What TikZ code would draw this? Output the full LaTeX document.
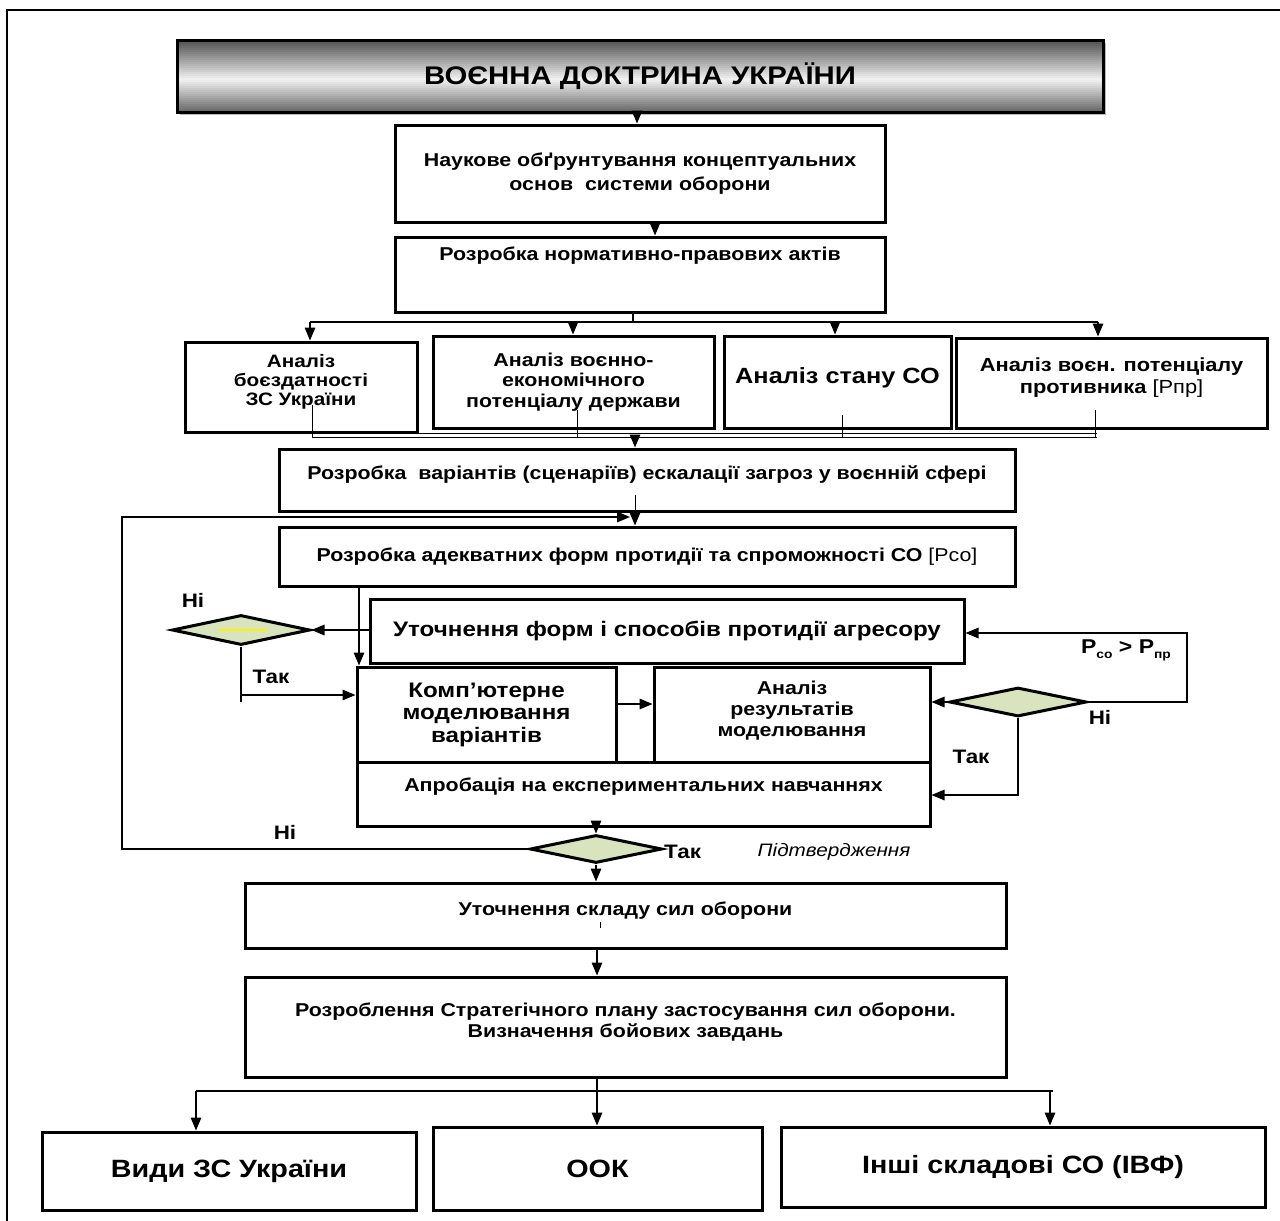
\documentclass[tikz,border=0pt]{standalone}
\usepackage{fontspec}
\setmainfont[FakeStretch=1.15]{Liberation Sans}
\usetikzlibrary{arrows.meta,shapes.geometric,calc,shadows}
\definecolor{dgreen}{HTML}{D7E4BD}
\begin{document}
\begin{tikzpicture}[x=1pt,y=-1pt,
  box/.style={draw,fill=white,line width=3pt,inner sep=0pt,align=center,
    drop shadow={shadow xshift=1.8pt,shadow yshift=-1.8pt,fill=gray!55,opacity=1},
    font=\bfseries\fontsize{18.6}{21}\selectfont},
  txt/.style={inner sep=0pt,align=center,font=\bfseries\fontsize{18.6}{21}\selectfont},
  lbl/.style={inner sep=0pt,font=\bfseries\fontsize{19.5}{21}\selectfont},
  arr/.style={line width=1.5pt,-{Triangle[length=13pt,width=10.5pt]}},
  ln/.style={line width=1.5pt},
  thin/.style={line width=0.9pt},
  dec/.style={diamond,draw,line width=3pt,fill=dgreen,inner sep=0pt}
]
\useasboundingbox (0,0) rectangle (1280,1221);
% frame
\draw[line width=1.2pt] (7,1221) -- (7,10) -- (1280,10);

% title: gradient background made of strips
\fill[gray!55] (180,43) rectangle (1106,115);
\foreach \i in {0,...,35}{
  \pgfmathsetmacro\t{(\i+0.5)/36}
  \pgfmathsetmacro\p{\t<0.55 ? 5+65*(0.55-\t)/0.55 : 5+55*(\t-0.55)/0.45}
  \fill[black!\p] (177,{40+2*\i}) rectangle (1103,{42.4+2*\i});
}
\node[draw,line width=3pt,inner sep=0pt,minimum width=926pt,minimum height=72pt,
  font=\bfseries\fontsize{25.5}{30}\selectfont]
  (doc) at (640,76) {ВОЄННА ДОКТРИНА УКРАЇНИ};

\node[box,minimum width=490pt,minimum height=97pt] (nauk) at (640,173.5)
  {Наукове обґрунтування концептуальних\\[3pt]основ\ \ системи оборони};
\node[box,minimum width=490pt,minimum height=75pt] (norm) at (640,274.5) {};
\node[txt] at (640,256) {Розробка нормативно-правових актів};

\draw[arr] (doc.south -| 637,0) -- (nauk.north -| 637,0);
\draw[arr] ($(nauk.south)+(15,0)$) -- ($(norm.north)+(15,0)$);

% analysis boxes
\node[box,minimum width=232pt,minimum height=90pt] (a1) at (301,387) {};
\node[txt,font=\bfseries\fontsize{18}{19}\selectfont] at (301,382) {Аналіз\\боєздатності\\ЗС України};
\node[box,minimum width=281pt,minimum height=92pt,font=\bfseries\fontsize{18.6}{20.5}\selectfont] (a2) at (573.5,382)
  {Аналіз воєнно-\\економічного\\потенціалу держави};
\node[box,minimum width=227pt,minimum height=92pt] (a3) at (837.5,382) {};
\node[txt,font=\bfseries\fontsize{22}{24}\selectfont] at (837.5,378) {Аналіз стану СО};
\node[box,minimum width=311pt,minimum height=90pt] (a4) at (1111.5,383) {};
\node[txt,font=\bfseries\fontsize{19}{22}\selectfont] at (1111.5,378)
  {Аналіз воєн. потенціалу\\противника {\mdseries [Рпр]}};

\coordinate (br) at (633,322);
\draw[ln] (norm.south -| br) -- (br);
\draw[ln] (310,322) -- (1098,322);
\draw[arr] (310,322) -- (a1.north -| 310,0);
\draw[arr] (573,322) -- (a2.north -| 573,0);
\draw[arr] (835,322) -- (a3.north -| 835,0);
\draw[arr] (1098,322) -- (a4.north -| 1098,0);

% joining lines under analysis boxes
\draw[thin] (312,405) -- (312,437);
\draw[thin] (577,410) -- (577,437);
\draw[thin] (842,415) -- (842,437);
\draw[thin] (1095,410) -- (1095,437);
\draw[thin] (312,433) -- (1097,433);
\draw[thin] (312,437) -- (1097,437);

\node[box,minimum width=736pt,minimum height=62pt] (var) at (647,480) {};
\node[txt] at (647,475) {Розробка\ \ варіантів (сценаріїв) ескалації загроз у воєнній сфері};
\draw[arr] (635,437) -- (var.north -| 635,0);

\node[box,minimum width=736pt,minimum height=59pt] (adek) at (647,556.5)
  {Розробка адекватних форм протидії та спроможності СО {\mdseries [Рсо]}};
\draw[thin] (635,495) -- (var.south -| 635,0);
\draw[arr] (var.south -| 635,0) -- (adek.north -| 635,0);

\node[box,minimum width=594pt,minimum height=64pt,font=\bfseries\fontsize{21}{24}\selectfont] (utoch) at (667,631)
  {Уточнення форм і способів протидії агресору};

% diamond 1
\node[dec,minimum width=138pt,minimum height=30pt] (d1) at (241,630) {};
\draw[line width=1.5pt,yellow] (218,630) -- (267,630);
\draw[arr] (utoch.west |- d1.east) -- (d1.east);
\node[lbl] at (193,600) {Ні};
\node[lbl] at (271,677) {Так};

\node[box,minimum width=259pt,minimum height=95pt,font=\bfseries\fontsize{21}{22.5}\selectfont] (komp) at (486.5,714.5)
  {Комп’ютерне\\моделювання\\варіантів};
\node[box,minimum width=276pt,minimum height=95pt,font=\bfseries\fontsize{18.6}{21}\selectfont] (anal) at (792,714.5) {};
\node[txt] at (792,711) {Аналіз\\результатів\\моделювання};
\node[box,minimum width=573pt,minimum height=64pt] (aprob) at (643.5,794) {};
\node[txt] at (643.5,787) {Апробація на експериментальних навчаннях};

\draw[arr] (adek.south -| 359,0) -- (komp.north -| 359,0);
\draw[ln] (d1.south) -- (241,702);
\draw[arr] (241,695) -- (komp.west |- 0,695);
\draw[arr] (komp.east |- 0,704) -- (anal.west |- 0,704);

% diamond 2
\node[dec,minimum width=137pt,minimum height=29pt] (d2) at (1018,702) {};
\draw[arr] (d2.west) -- (anal.east |- d2.west);
\draw[ln,-{Triangle[length=13pt,width=10.5pt]}] (d2.east) -- (1187,702) -- (1187,633) -- (utoch.east |- 0,633);
\draw[arr] (d2.south) -- (1018,795) -- (aprob.east |- 0,795);
\node[lbl,font=\bfseries\fontsize{20}{22}\selectfont] at (1126,650) {P\raisebox{-5pt}{\fontsize{12}{12}\selectfont co} > P\raisebox{-5pt}{\fontsize{12}{12}\selectfont пр}};
\node[lbl] at (1100,717) {Ні};
\node[lbl] at (971,757) {Так};

% diamond 3
\node[dec,minimum width=132pt,minimum height=28pt] (d3) at (596,849) {};
\draw[arr] (aprob.south -| 596,0) -- (d3.north);
\node[lbl,anchor=west] at (664,852) {Так};
\node[inner sep=0pt,font=\itshape\fontsize{18}{20}\selectfont] at (834,852) {Підтвердження};
\node[lbl] at (285,832) {Ні};
\draw[ln,-{Triangle[length=13pt,width=10.5pt]}] (d3.west) -- (122,849) -- (122,517) -- (630,517);

% lower part
\node[box,minimum width=761pt,minimum height=65pt] (sklad) at (625.5,915.5) {};
\node[txt] at (625.5,911) {Уточнення складу сил оборони};
\draw[line width=0.6pt] (600,922) -- (600,928);
\draw[arr] (d3.south) -- (sklad.north -| 596,0);

\node[box,minimum width=761pt,minimum height=100pt] (plan) at (625.5,1027) {};
\node[txt] at (625.5,1022) {Розроблення Стратегічного плану застосування сил оборони.\\Визначення бойових завдань};
\draw[arr] (sklad.south -| 597,0) -- (plan.north -| 597,0);

\node[box,minimum width=374pt,minimum height=78pt,font=\bfseries\fontsize{25}{28}\selectfont] (vydy) at (229,1171) {Види ЗС України};
\node[box,minimum width=329pt,minimum height=83pt,font=\bfseries\fontsize{25}{28}\selectfont] (ook) at (597.5,1168.5) {ООК};
\node[box,minimum width=484pt,minimum height=80pt,font=\bfseries\fontsize{25}{28}\selectfont] (inshi) at (1023,1167) {Інші складові СО (ІВФ)};

\draw[ln] (plan.south -| 597,0) -- (597,1091);
\draw[ln] (196,1091) -- (1053,1091);
\draw[arr] (196,1091) -- (vydy.north -| 196,0);
\draw[arr] (597,1091) -- (ook.north -| 597,0);
\draw[arr] (1050,1091) -- (inshi.north -| 1050,0);
\end{tikzpicture}
\end{document}
